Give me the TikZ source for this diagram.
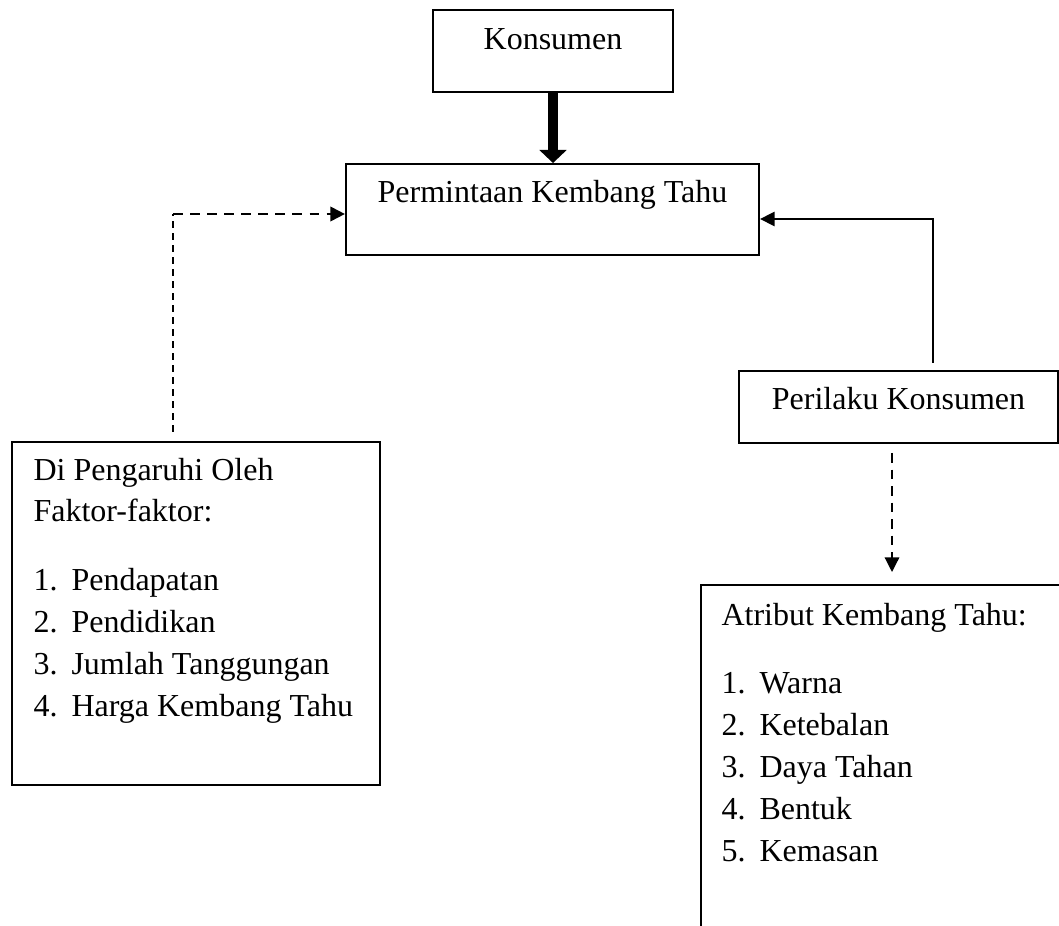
\documentclass[tikz,border=0pt]{standalone}
\usepackage{fontspec}
\setmainfont{Liberation Serif}
\usetikzlibrary{arrows.meta}
\newcommand\numitem[2]{\makebox[14.25pt][l]{#1}#2}

\begin{document}
\begin{tikzpicture}[x=0.375pt,y=-0.375pt,
  box/.style={draw,line width=0.75pt,inner sep=0pt,font=\fontsize{12}{15.75}\selectfont},
  listtext/.style={inner sep=0pt,anchor=base west,font=\fontsize{12}{15.75}\selectfont},
  tip/.style={-{Triangle[length=5.5pt,width=5.4pt]}}]
  \clip (0,0) rectangle (1059,926);
  \node[box,minimum width=90pt,text height=15pt,text depth=15.75pt] (konsumen) at (553,51) {Konsumen};
  \node[box,minimum width=154.9pt,text height=14.6pt,text depth=19.5pt] (permintaan) at (552.5,209.5) {Permintaan Kembang Tahu};
  \node[box,minimum width=119.6pt,text height=14.6pt,text depth=12.4pt] (perilaku) at (898.5,407) {Perilaku Konsumen};
  \node[box,minimum width=138pt,minimum height=128.6pt] (faktorbox) at (196,613.5) {};
  \node[box,minimum width=149.6pt,minimum height=140.6pt] (atributbox) at (900.5,772.5) {};
  \node[listtext] (faktor) at (33,480) {\begin{tabular}[t]{@{}l@{}}
    Di Pengaruhi Oleh\\
    Faktor-faktor:\\[10pt]
    \numitem{1.}{Pendapatan}\\
    \numitem{2.}{Pendidikan}\\
    \numitem{3.}{Jumlah Tanggungan}\\
    \numitem{4.}{Harga Kembang Tahu}
  \end{tabular}};
  \node[listtext] (atribut) at (721,625) {\begin{tabular}[t]{@{}l@{}}
    Atribut Kembang Tahu:\\[10pt]
    \numitem{1.}{Warna}\\
    \numitem{2.}{Ketebalan}\\
    \numitem{3.}{Daya Tahan}\\
    \numitem{4.}{Bentuk}\\
    \numitem{5.}{Kemasan}
  \end{tabular}};
  \coordinate (leftfoot) at (173,432);
  \coordinate (leftbend) at (173,214);
  \coordinate (rightfoot) at (933,363);
  \coordinate (rightbend) at (933,219);
  \coordinate (downtop) at (892,453);
  \draw[-{Triangle[length=4.9pt,width=10pt]},line width=4.1pt] (konsumen.south) -- (konsumen.south |- permintaan.north);
  \draw[dash pattern=on 2.6pt off 1.9pt,line width=0.4pt] (leftfoot) -- (leftbend);
  \draw[tip,dash pattern=on 3.6pt off 2.8pt,line width=1pt] (leftbend) -- (permintaan.west |- leftbend);
  \draw[tip,line width=0.6pt] (rightfoot) |- (permintaan.east |- rightbend);
  \draw[tip,dash pattern=on 3.6pt off 2.6pt,line width=0.75pt,shorten >=4.5pt] (downtop) -- (downtop |- atributbox.north);
\end{tikzpicture}
\end{document}
